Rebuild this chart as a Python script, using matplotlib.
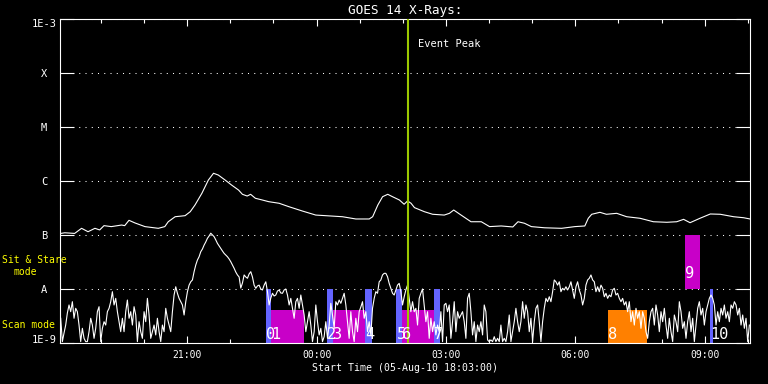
"""GOES 14 X-ray light curve with observing-block overlay (05-Aug-10)."""
import numpy as np
import matplotlib

matplotlib.use("Agg")
import matplotlib.pyplot as plt
from matplotlib.ticker import NullLocator

# hours after 00:00 on 05-Aug-10 (values above 24 fall on 06-Aug)
START_HOUR = 18.05   # 18:03
END_HOUR = 34.05     # 10:03 next day

# GOES long channel (1-8 A), flux in units of 1e-9 W/m^2
long_hours = [
    18.07, 18.16, 18.39, 18.55, 18.70, 18.86, 18.97, 19.07, 19.24, 19.48,
    19.55, 19.65, 19.79, 20.02, 20.33, 20.48, 20.56, 20.72, 20.95, 21.07,
    21.18, 21.34, 21.49, 21.61, 21.72, 21.88, 22.03, 22.19, 22.28, 22.39,
    22.47, 22.58, 22.74, 22.89, 23.13, 23.36, 23.67, 23.98, 24.21, 24.60,
    24.91, 25.22, 25.30, 25.42, 25.53, 25.65, 25.76, 25.92, 26.03, 26.11,
    26.19, 26.27, 26.50, 26.69, 26.96, 27.08, 27.18, 27.35, 27.58, 27.82,
    28.01, 28.28, 28.55, 28.67, 28.82, 28.98, 29.29, 29.68, 29.99, 30.22,
    30.30, 30.38, 30.57, 30.72, 30.96, 31.19, 31.50, 31.81, 32.12, 32.35,
    32.51, 32.66, 32.89, 33.13, 33.36, 33.67, 33.90, 34.05,
]
long_flux = [
    107, 110, 107, 133, 115, 133, 124, 149, 143, 153,
    149, 187, 167, 143, 133, 143, 176, 218, 228, 270,
    359, 592, 1040, 1390, 1290, 1040, 840, 680, 567, 527,
    567, 479, 445, 414, 387, 334, 278, 234, 228, 218,
    198, 198, 218, 359, 512, 567, 512, 445, 371, 427,
    387, 321, 270, 242, 234, 252, 290, 234, 176, 176,
    143, 147, 141, 176, 165, 143, 136, 133, 143, 147,
    204, 242, 263, 242, 252, 218, 204, 176, 172, 176,
    195, 169, 204, 245, 242, 218, 209, 198,
]

# GOES short channel (0.5-4 A), one sample every short_step_min minutes
short_first_hour = 18.066
short_step_min = 2.32
short_flux = [
    2.87, 1.06, 1.53, 2.15, 3.59, 5.06, 3.80, 5.82, 2.87, 4.39,
    3.80, 2.15, 1.06, 1.87, 1.22, 1.06, 1.06, 1.62, 2.87, 2.15,
    1.22, 1.87, 3.80, 4.70, 1.06, 1.87, 2.48, 2.15, 3.80, 4.39,
    5.82, 8.91, 5.06, 6.71, 3.80, 2.48, 1.62, 2.87, 1.62, 3.80,
    6.25, 2.87, 3.80, 2.15, 4.70, 3.30, 1.06, 2.48, 1.62, 1.22,
    3.80, 2.48, 6.71, 3.30, 1.22, 1.62, 2.15, 1.41, 2.87, 1.62,
    1.06, 2.15, 1.62, 4.39, 2.87, 2.15, 1.62, 3.80, 7.74, 11.0,
    8.33, 6.71, 5.82, 5.06, 3.30, 5.82, 8.91, 11.8, 13.6, 14.7,
    20.9, 27.8, 34.4, 39.6, 49.0, 55.0, 65.0, 74.3, 86.9, 95.9,
    108, 100, 93.1, 81.2, 70.0, 62.7, 56.5, 50.6, 45.7, 42.6,
    39.6, 36.0, 32.0, 27.8, 24.2, 20.6, 18.2,
    16.7, 10.4, 12.9, 18.2, 16.7, 15.8, 19.0, 20.9, 16.7, 11.8,
    10.3, 11.4, 11.8, 10.0, 9.59, 11.8, 13.6, 8.91, 5.06, 6.81,
    8.33, 7.42, 7.74, 9.18, 9.59, 8.43, 8.33, 9.59, 10.0, 7.74,
    5.06, 6.71, 4.39, 2.87, 5.82, 6.71, 4.39, 7.74, 5.06, 3.30,
    1.62, 2.48, 3.80, 2.15, 1.06, 1.62, 5.06, 2.48, 1.41, 1.87,
    1.06, 1.31, 2.48, 1.22, 2.15, 5.43, 3.30, 1.87, 5.82, 5.06,
    6.25, 5.43, 6.71, 8.33, 5.06, 2.48, 1.22, 3.80, 1.62, 1.06,
    2.87, 1.62, 3.80, 4.64, 5.82, 2.87, 3.80, 1.62, 2.48, 1.41,
    4.39, 6.71, 8.91, 8.33, 13.6, 14.7, 18.2, 19.5, 19.5, 16.9,
    12.7, 10.3, 8.33, 7.74, 9.59, 11.8, 12.7, 8.91, 5.06, 7.19,
    9.59, 11.8, 6.71, 3.80, 5.82, 3.80,
    4.39, 2.15, 6.71, 8.33, 10.0, 5.06, 2.48, 3.80, 1.22, 2.87,
    1.62, 2.48, 1.41, 2.15, 1.62, 3.80, 1.06, 5.06, 5.43, 3.80,
    5.06, 1.22, 2.48, 5.82, 1.62, 3.80, 2.87, 3.30, 3.80, 2.48,
    1.22, 6.71, 8.33, 3.80, 1.41, 2.48, 1.06, 2.15, 1.62, 2.48,
    1.41, 5.06, 3.80, 1.14, 1.06, 1.14, 1.06, 1.31, 1.06, 1.22,
    1.06, 2.15, 1.06, 1.22, 1.06, 1.62, 3.30, 1.06, 1.62, 2.48,
    4.39, 2.48, 1.62, 2.48, 5.82, 2.87, 5.06, 3.80, 1.62, 2.87,
    1.06, 2.48, 4.39, 5.06, 2.48, 1.06, 2.48, 4.39, 6.71, 5.82,
    7.19, 5.82, 8.91, 14.7, 13.6, 11.8, 13.6, 8.91, 10.3, 9.59,
    11.0, 9.59, 11.0, 13.6, 9.59, 6.71, 11.0, 13.6, 9.59, 7.74,
    5.06, 6.71, 11.8, 14.7, 15.8,
    18.2, 14.7, 13.6, 8.91, 11.0, 8.91, 11.8, 10.3, 7.19, 8.33,
    6.71, 7.74, 7.19, 9.59, 10.3, 7.74, 8.33, 6.71, 5.82, 6.71,
    5.06, 5.82, 3.80, 5.82, 2.48, 3.80, 2.15, 4.39, 2.87, 3.80,
    1.87, 3.80, 2.87, 1.62, 1.22, 2.48, 3.80, 4.39, 2.15, 5.06,
    3.30, 1.62, 3.80, 2.48, 4.39, 2.15, 1.22, 2.87, 1.62, 1.06,
    3.30, 2.48, 1.62, 5.82, 3.80, 1.87, 2.48, 1.22, 2.48, 3.80,
    1.62, 2.87, 1.06, 2.15, 4.39, 5.82, 3.30, 4.39, 2.15, 3.80,
    5.06, 6.71, 7.74, 6.71, 5.06, 2.15, 3.80, 2.48, 4.39, 3.30,
    5.06, 2.87, 3.80, 2.48, 5.06, 4.39, 5.82, 5.06, 3.30, 4.39,
    2.15, 3.30, 1.87, 2.87, 1.06, 2.15,
]

event_peak_hour = 26.12

# observing blocks
block_labels = ["0", "1", "2", "3", "4", "5", "6", "7", "8", "9", "10"]
block_start = [22.83, 22.95, 24.24, 24.38, 25.13, 25.85, 25.98, 26.73,
               30.76, 32.55, 33.13]
block_end = [22.95, 23.71, 24.38, 25.13, 25.28, 25.98, 26.73, 26.87,
             31.66, 32.90, 33.19]
block_kind = ["point", "scan", "point", "scan", "point", "point", "scan",
              "point", "scan_b", "stare", "point"]

# flux range (1e-9 W/m^2) each kind of block spans
kind_range = {"point": (1.0, 10.0), "scan": (1.0, 4.1),
              "scan_b": (1.0, 4.1), "stare": (10.0, 100.0)}

class_levels = [1e-9, 1e-8, 1e-7, 1e-6, 1e-5, 1e-4, 1e-3]
class_labels = ["1E-9", "A", "B", "C", "M", "X", "1E-3"]
major_hours = [21, 24, 27, 30, 33]
minor_hours = list(range(19, 35))

NW = 1e-9
YELLOW = "#ffff00"
kind_color = {"point": "#6464ff", "scan": "#c800c8",
              "scan_b": "#ff8000", "stare": "#c800c8"}
label_base = {"point": 1.19, "scan": 1.19, "scan_b": 1.19, "stare": 16.0}

plt.rcParams["font.family"] = ["DejaVu Sans Mono", "DejaVu Sans"]

fig = plt.figure(figsize=(7.68, 3.84), dpi=100, facecolor="black")
ax = fig.add_axes([60 / 768, 1 - 343 / 384, 690 / 768, 324 / 384])
ax.set_facecolor("black")
ax.set_yscale("log")
ax.set_xlim(START_HOUR, END_HOUR)
ax.set_ylim(1e-9, 1e-3)

# observing blocks
for lab, t0, t1, kind in zip(block_labels, block_start, block_end, block_kind):
    lo, hi = kind_range[kind]
    ax.bar(t0, (hi - lo) * NW, width=t1 - t0, bottom=lo * NW, align="edge",
           color=kind_color[kind], linewidth=0, zorder=1)
    ax.text(t0, label_base[kind] * NW, lab, color="white", fontsize=11,
            ha="left", va="baseline", zorder=5)

# light curves
short_hours = short_first_hour + np.arange(len(short_flux)) * short_step_min / 60
ax.plot(long_hours, np.array(long_flux) * NW, color="white", lw=0.8, zorder=3)
ax.plot(short_hours, np.array(short_flux) * NW, color="white", lw=0.8, zorder=3)

ax.axvline(event_peak_hour, color="#9bc800", lw=1.5, zorder=4)
ax.annotate("Event Peak", xy=(event_peak_hour, 1e-3), xytext=(7.5, -20),
            textcoords="offset points", color="white", fontsize=7.5,
            ha="left", va="baseline")

# axes cosmetics
for sp in ax.spines.values():
    sp.set_color("white")
    sp.set_linewidth(0.8)

ax.set_yticks(class_levels)
ax.set_yticklabels(class_labels)
ax.yaxis.set_minor_locator(NullLocator())
ax.tick_params(axis="y", which="major", direction="in", length=10, width=0.8,
               left=True, right=True, colors="white", labelsize=7.5, pad=11.5)
for lab in ax.get_yticklabels():
    lab.set_ha("center")
ax.get_yticklabels()[0].set_va("baseline")
ax.get_yticklabels()[-1].set_va("top")

ax.set_xticks(major_hours)
ax.set_xticklabels([f"{h % 24:02d}:00" for h in major_hours])
ax.set_xticks(minor_hours, minor=True)
ax.tick_params(axis="x", which="major", direction="in", length=5, width=0.8,
               top=True, bottom=True, colors="white", labelsize=7, pad=5)
ax.tick_params(axis="x", which="minor", direction="in", length=2.7,
               width=0.8, top=True, bottom=True, colors="white")

ax.grid(axis="y", which="major", color="white", lw=0.75,
        linestyle=(0, (1, 5)), zorder=0.5)
ax.set_axisbelow(True)

ax.set_title("GOES 14 X-Rays:", color="white", fontsize=9.2, pad=3.6)
ax.text(0.5, -28 / 324, "Start Time (05-Aug-10 18:03:00)", color="white",
        fontsize=7.1, ha="center", va="baseline", transform=ax.transAxes)

fig.text(2 / 768, 1 - 263 / 384, "Sit & Stare", color=YELLOW, fontsize=7,
         va="baseline")
fig.text(13 / 768, 1 - 275 / 384, "mode", color=YELLOW, fontsize=7,
         va="baseline")
fig.text(2 / 768, 1 - 328 / 384, "Scan mode", color=YELLOW, fontsize=7,
         va="baseline")

fig.savefig("out.png", dpi=100, facecolor="black")
plt.close(fig)
